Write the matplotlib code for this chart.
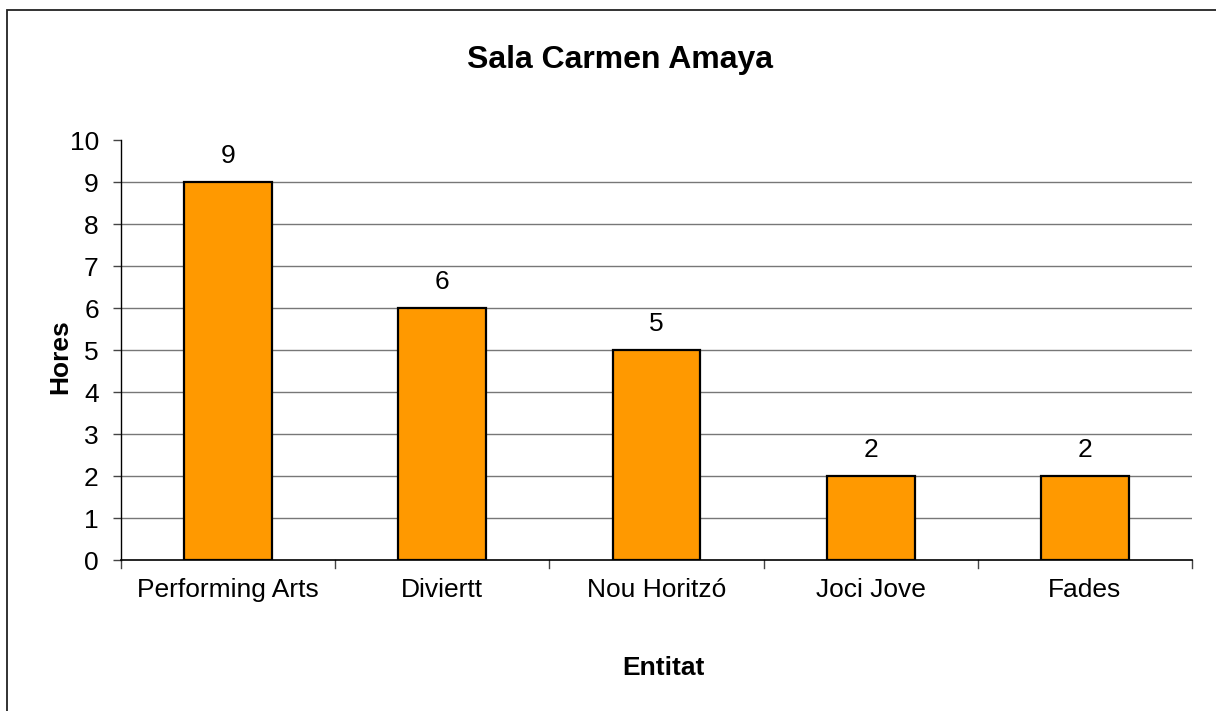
import matplotlib
matplotlib.use("Agg")
import matplotlib.pyplot as plt
from matplotlib.patches import Rectangle

categories = ["Performing Arts", "Diviertt", "Nou Horitzó", "Joci Jove", "Fades"]
hours = [9, 6, 5, 2, 2]
yticks = list(range(0, 11))

plt.rcParams['font.family'] = ['Liberation Sans', 'DejaVu Sans']

W, H = 1216, 711
fig = plt.figure(figsize=(W / 100, H / 100), dpi=100)

# outer frame
fig.patches.append(Rectangle((7 / W, -0.1), 1.2, 1 - 10 / H + 0.1, transform=fig.transFigure,
                             fill=False, edgecolor='#222222', linewidth=1.3))

left, right, top, bottom = 121, 1192, 140, 560
ax = fig.add_axes([left / W, 1 - bottom / H, (right - left) / W, (bottom - top) / H])

x = list(range(len(categories)))
ax.bar(x, hours, width=0.41, color='#FF9900', edgecolor='black', linewidth=1.6, zorder=3)
for xi, v in zip(x, hours):
    ax.text(xi, v + 0.33, str(v), ha='center', va='bottom', fontsize=19)

ax.set_xlim(-0.5, len(categories) - 0.5)
ax.set_ylim(0, 10)
ax.set_yticks(yticks)
ax.tick_params(axis='y', labelsize=19, length=6, width=1, color='#444444', pad=10)
for yv in yticks[1:-1]:
    ax.axhline(yv, color='#777777', linewidth=1, zorder=1)

ax.set_xticks(x)
ax.set_xticklabels(categories, fontsize=19)
ax.tick_params(axis='x', length=0, pad=13)
for b in [i - 0.5 for i in range(len(categories) + 1)]:
    ax.plot([b, b], [0, -0.18], color='#444444', linewidth=1, clip_on=False)

for s in ['top', 'right']:
    ax.spines[s].set_visible(False)
ax.spines['left'].set_linewidth(1)
ax.spines['bottom'].set_linewidth(1.2)

fig.text(620 / W, 1 - 60 / H, "Sala Carmen Amaya", ha='center', va='center',
         fontsize=23, fontweight='bold')
fig.text(663 / W, 1 - 668 / H, "Entitat", ha='center', va='center',
         fontsize=19, fontweight='bold')
fig.text(60 / W, 1 - 357 / H, "Hores", ha='center', va='center', rotation=90,
         fontsize=19, fontweight='bold')

fig.savefig("out.png", dpi=100)
